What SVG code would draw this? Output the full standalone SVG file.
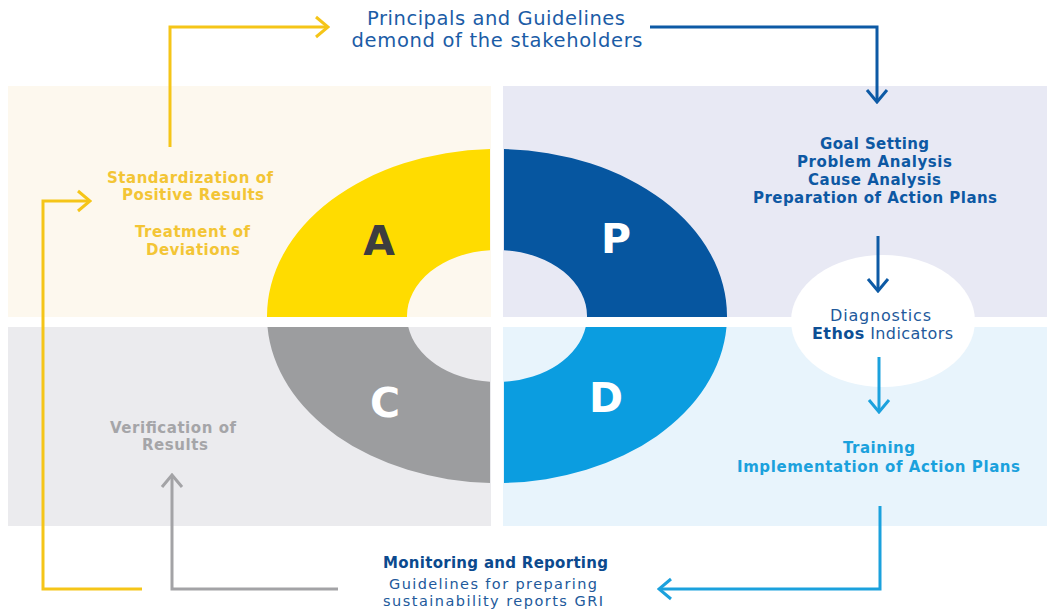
<svg xmlns="http://www.w3.org/2000/svg" width="1047" height="615" viewBox="0 0 1047 615">
  <style>
    text { font-family: "DejaVu Sans", "Liberation Sans", sans-serif; text-anchor: middle; }
    .b { font-weight: bold; font-size: 15px; }
    .r { font-size: 16px; }
    .s { font-size: 14.5px; }
    .big { font-size: 19.5px; fill: #1b5ca6; }
    .letter { font-weight: bold; font-size: 41px; }
    .ln { fill: none; stroke-width: 3; stroke-linejoin: miter; }
    .yel { stroke: #f5c518; }
    .gry { stroke: #a3a3a6; }
    .dbl { stroke: #0d5aa5; }
    .lbl { stroke: #1ba1dd; }
    .t-yel { fill: #f3c535; }
    .t-gry { fill: #a5a5a8; }
    .t-dbl { fill: #0d58a3; }
    .t-dbl2 { fill: #0c4a8e; }
    .t-reg { fill: #22599b; }
    .t-lbl { fill: #1ba1dd; }
  </style>
  <defs>
    <marker id="head-yel" viewBox="-14 -12 16 24" refX="0" refY="0" markerWidth="16" markerHeight="24" markerUnits="userSpaceOnUse" orient="auto">
      <path d="M-12,-10 L0,0 L-12,10" fill="none" stroke="#f5c518" stroke-width="3"/>
    </marker>
    <marker id="head-gry" viewBox="-14 -12 16 24" refX="0" refY="0" markerWidth="16" markerHeight="24" markerUnits="userSpaceOnUse" orient="auto">
      <path d="M-12,-10 L0,0 L-12,10" fill="none" stroke="#a3a3a6" stroke-width="3"/>
    </marker>
    <marker id="head-dbl" viewBox="-14 -12 16 24" refX="0" refY="0" markerWidth="16" markerHeight="24" markerUnits="userSpaceOnUse" orient="auto">
      <path d="M-12,-10 L0,0 L-12,10" fill="none" stroke="#0d5aa5" stroke-width="3"/>
    </marker>
    <marker id="head-lbl" viewBox="-14 -12 16 24" refX="0" refY="0" markerWidth="16" markerHeight="24" markerUnits="userSpaceOnUse" orient="auto">
      <path d="M-12,-10 L0,0 L-12,10" fill="none" stroke="#1ba1dd" stroke-width="3"/>
    </marker>
  </defs>

  <rect width="1047" height="615" fill="#ffffff"/>

  <!-- quadrant background panels -->
  <g id="panels">
    <rect x="8" y="86" width="483" height="231" fill="#fdf8ee"/>
    <rect x="503" y="86" width="544" height="231" fill="#e8e9f4"/>
    <rect x="8" y="327" width="483" height="199" fill="#ebebee"/>
    <rect x="503" y="327" width="544" height="199" fill="#e8f4fc"/>
  </g>

  <!-- PDCA ring -->
  <g id="quadrant-a">
    <path d="M267,317 A230,167 0 0 1 490,149.1 L490,250.2 A90,66 0 0 0 407,317 Z" fill="#ffdc00"/>
    <text class="letter" x="379" y="255" fill="#3d3d3f">A</text>
  </g>
  <g id="quadrant-p">
    <path d="M504,149.1 A230,167 0 0 1 727,317 L587,317 A90,66 0 0 0 504,250.2 Z" fill="#0656a0"/>
    <text class="letter" x="616" y="253" fill="#ffffff">P</text>
  </g>
  <g id="quadrant-c">
    <path d="M267.5,327 L408.3,327 A90,66 0 0 0 490,381.8 L490,482.9 A230,167 0 0 1 267.5,327 Z" fill="#9c9d9f"/>
    <text class="letter" x="385" y="417" fill="#ffffff">C</text>
  </g>
  <g id="quadrant-d">
    <path d="M504,381.8 A90,66 0 0 0 585.7,327 L726.5,327 A230,167 0 0 1 504,482.9 Z" fill="#0b9de0"/>
    <text class="letter" x="606" y="412" fill="#ffffff">D</text>
  </g>

  <!-- diagnostics bubble -->
  <g id="node-diagnostics">
    <ellipse cx="883" cy="321" rx="92" ry="66" fill="#ffffff"/>
    <text class="r t-reg" x="880.5" y="321" textLength="101" lengthAdjust="spacing">Diagnostics</text>
    <text class="r t-reg" x="882.5" y="339" textLength="141" lengthAdjust="spacing"><tspan font-weight="bold" fill="#0d4f95">Ethos</tspan> Indicators</text>
  </g>

  <g id="node-principles">
    <text class="big" x="496" y="25" textLength="258" lengthAdjust="spacing">Principals and Guidelines</text>
    <text class="big" x="497" y="47" textLength="291" lengthAdjust="spacing">demond of the stakeholders</text>
  </g>

  <g id="node-plan">
    <text class="b t-dbl" x="874.5" y="149" textLength="109" lengthAdjust="spacing">Goal Setting</text>
    <text class="b t-dbl" x="874.5" y="167" textLength="155" lengthAdjust="spacing">Problem Analysis</text>
    <text class="b t-dbl" x="874.5" y="185" textLength="133" lengthAdjust="spacing">Cause Analysis</text>
    <text class="b t-dbl" x="875" y="203" textLength="244" lengthAdjust="spacing">Preparation of Action Plans</text>
  </g>

  <g id="node-do">
    <text class="b t-lbl" x="879" y="453" textLength="72" lengthAdjust="spacing">Training</text>
    <text class="b t-lbl" x="878.5" y="472" textLength="283" lengthAdjust="spacing">Implementation of Action Plans</text>
  </g>

  <g id="node-monitoring">
    <text class="b t-dbl2" x="495.5" y="568" textLength="225" lengthAdjust="spacing">Monitoring and Reporting</text>
    <text class="s t-reg" x="493" y="589" textLength="208" lengthAdjust="spacing">Guidelines for preparing</text>
    <text class="s t-reg" x="493" y="606" textLength="220" lengthAdjust="spacing">sustainability reports GRI</text>
  </g>

  <g id="node-check">
    <text class="b t-gry" x="173" y="433" textLength="126" lengthAdjust="spacing">Verification of</text>
    <text class="b t-gry" x="175" y="450" textLength="66" lengthAdjust="spacing">Results</text>
  </g>

  <g id="node-act">
    <text class="b t-yel" x="190" y="183" textLength="166" lengthAdjust="spacing">Standardization of</text>
    <text class="b t-yel" x="193" y="200" textLength="142" lengthAdjust="spacing">Positive Results</text>
    <text class="b t-yel" x="192.5" y="237" textLength="115" lengthAdjust="spacing">Treatment of</text>
    <text class="b t-yel" x="193" y="255" textLength="94" lengthAdjust="spacing">Deviations</text>
  </g>

  <!-- connectors -->
  <g id="connectors">
    <path class="ln yel" d="M170,147 V27 H328" marker-end="url(#head-yel)"/>
    <path class="ln yel" d="M142,589 H43 V201 H90" marker-end="url(#head-yel)"/>
    <path class="ln gry" d="M338,589 H172 V475" marker-end="url(#head-gry)"/>
    <path class="ln dbl" d="M650,27 H877 V102" marker-end="url(#head-dbl)"/>
    <path class="ln dbl" d="M878,236 V291" marker-end="url(#head-dbl)"/>
    <path class="ln lbl" d="M879,357 V412" marker-end="url(#head-lbl)"/>
    <path class="ln lbl" d="M880,506 V589 H659" marker-end="url(#head-lbl)"/>
  </g>
</svg>
